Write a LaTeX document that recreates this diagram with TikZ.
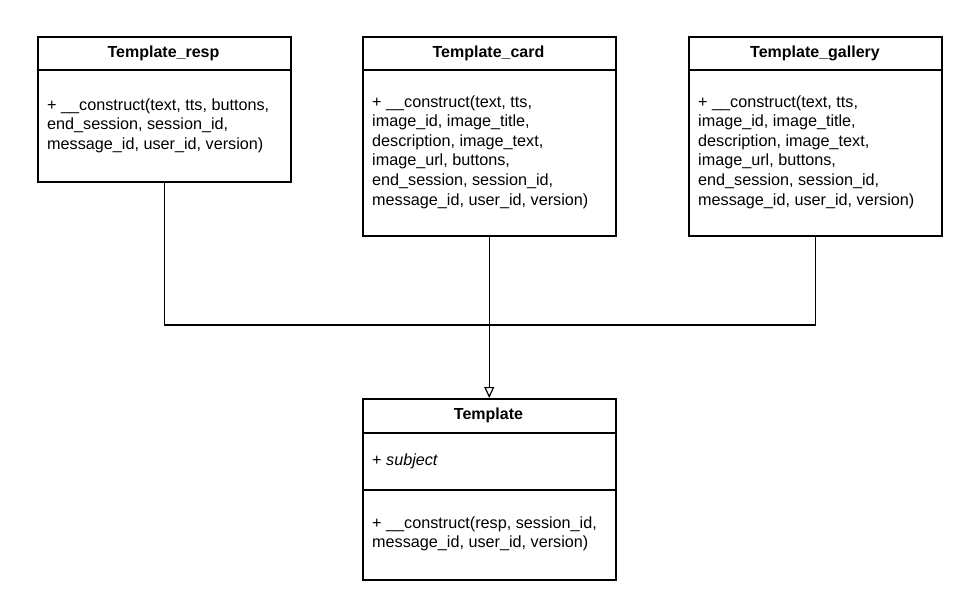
\documentclass[tikz,border=0pt]{standalone}
\usepackage{fontspec}
\setmainfont{Liberation Sans}
\usetikzlibrary{arrows.meta}
\begin{document}
\begin{tikzpicture}[x=1pt,y=-1pt,
  umlbox/.style={draw, line width=1.5pt, anchor=north west, inner sep=0pt,
    minimum width=253pt},
  sep/.style={line width=1.5pt},
  title/.style={font=\fontsize{16}{19.6}\selectfont\bfseries, inner sep=0pt},
  body/.style={font=\fontsize{16.2}{19.6}\selectfont, align=left, anchor=west, inner sep=0pt},
  link/.style={line width=1.5pt}]
\useasboundingbox (0,0) rectangle (978,614);

% class boxes
\node[umlbox, minimum height=145pt] (resp) at (37,36) {};
\node[umlbox, minimum height=199pt] (card) at (362,36) {};
\node[umlbox, minimum height=199pt] (gallery) at (688,36) {};
\node[umlbox, minimum height=181pt] (tmpl) at (362,398) {};

% compartment separators
\draw[sep] ([yshift=-34pt]resp.north west) -- ([yshift=-34pt]resp.north east);
\draw[sep] ([yshift=-34pt]card.north west) -- ([yshift=-34pt]card.north east);
\draw[sep] ([yshift=-34pt]gallery.north west) -- ([yshift=-34pt]gallery.north east);
\draw[sep] ([yshift=-35pt]tmpl.north west) -- ([yshift=-35pt]tmpl.north east);
\draw[sep] ([yshift=-92pt]tmpl.north west) -- ([yshift=-92pt]tmpl.north east);

% titles
\node[title] (resptitle) at (163.5,53) {Template\_resp};
\node[title] (cardtitle) at (488.5,53) {Template\_card};
\node[title] (gallerytitle) at (815,53) {Template\_gallery};
\node[title] (tmpltitle) at (488.5,415.5) {Template};

% operations and attributes
\node[body] (respops) at (47,125.5) {+ \_\_construct(text, tts, buttons,\\end\_session, session\_id,\\message\_id, user\_id, version)};
\node[body] (cardops) at (372,152) {+ \_\_construct(text, tts,\\image\_id, image\_title,\\description, image\_text,\\image\_url, buttons,\\end\_session, session\_id,\\message\_id, user\_id, version)};
\node[body] (galleryops) at (698,152) {+ \_\_construct(text, tts,\\image\_id, image\_title,\\description, image\_text,\\image\_url, buttons,\\end\_session, session\_id,\\message\_id, user\_id, version)};
\node[body] (tmplattr) at (372,461.5) {+ \textit{subject}};
\node[body] (tmplops) at (372,534) {+ \_\_construct(resp, session\_id,\\message\_id, user\_id, version)};

% generalisation connectors
\coordinate (join) at (488.5,325);
\draw[link] (resp.south) |- (join);
\draw[link] (gallery.south) |- (join);
\draw[link, -{Triangle[open, length=11pt, width=10pt, line width=1.2pt]}] (card.south) -- (tmpl.north);
\end{tikzpicture}
\end{document}
